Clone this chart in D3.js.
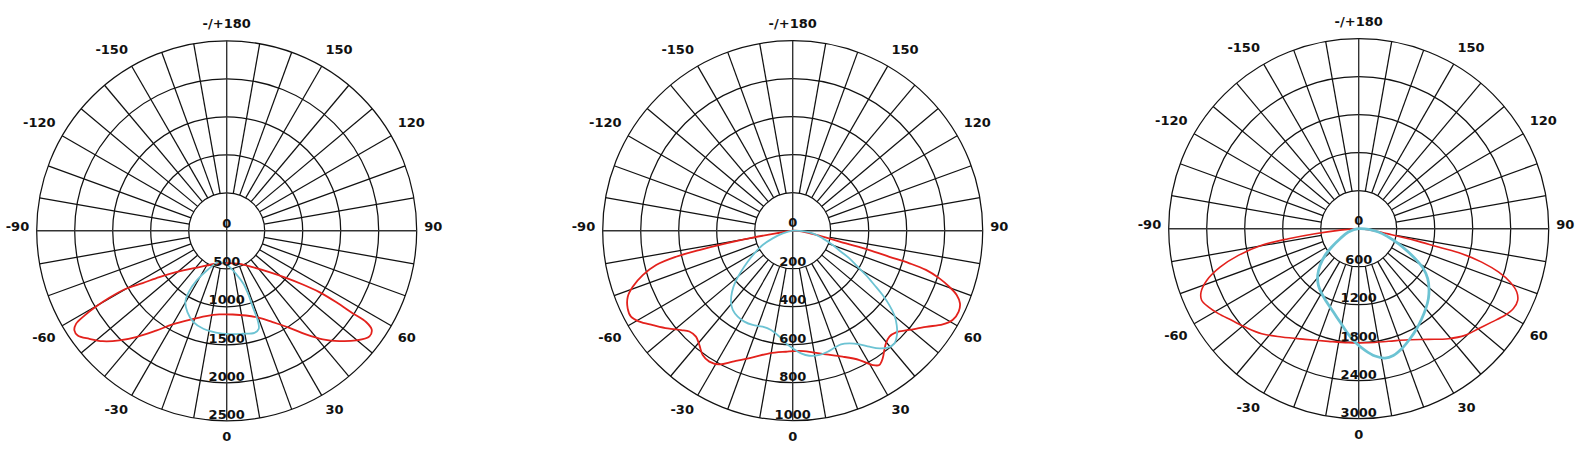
<!DOCTYPE html>
<html>
<head>
<meta charset="utf-8">
<script src="https://cdn.jsdelivr.net/npm/d3@7"></script>
<style>
  html, body { margin: 0; padding: 0; background: #fff; }
  svg { display: block; }
  text { font-family: "DejaVu Sans", sans-serif; font-weight: bold; font-size: 13px; fill: #111; }
</style>
</head>
<body>
<svg id="chart" width="1578" height="472"></svg>
<script>
// ---------- DATA ----------
const angleTicks = [0, 30, 60, 90, 120, 150, 180, -150, -120, -90, -60, -30];
const angleTickLabels = ["0", "30", "60", "90", "120", "150", "-/+180", "-150", "-120", "-90", "-60", "-30"];

const chart1RadialTicks = [0, 500, 1000, 1500, 2000, 2500];
const chart2RadialTicks = [0, 200, 400, 600, 800, 1000];
const chart3RadialTicks = [0, 600, 1200, 1800, 2400, 3000];

// chart 1 – red (C0-C180) traced loop: angle (deg, 0 = nadir, + = right), intensity
const chart1RedAngles = [-1, -18, -37, -50.8, -55.5, -58.1, -60.1, -60.3, -59.9, -59.2, -58.3, -56.8, -54.9, -51.8, -48.3, -44.4, -40.5, -35.3, -30, -22.7, -13.6, -5, 4.1, 12.8, 20.6, 26.7, 32.9, 37.4, 41.5, 45.6, 49.7, 53.5, 55.7, 56.8, 56.8, 56.9, 56.5, 54.8, 51.6, 45.9, 35.6, 21];
const chart1RedValues = [425, 456, 598, 860, 1075, 1302, 1529, 1778, 1987, 2179, 2330, 2395, 2396, 2299, 2184, 2019, 1838, 1608, 1423, 1270, 1155, 1105, 1104, 1143, 1223, 1345, 1520, 1717, 1908, 2075, 2231, 2337, 2310, 2192, 1980, 1717, 1462, 1225, 996, 782, 588, 466];
// chart 1 – cyan (C90-C270)
const chart1CyanAngles = [-14.3, -26, -31.1, -31.8, -30.1, -25.8, -20, -13.4, -6, 1.5, 8.8, 15.2, 18.1, 19.1, 18.9, 18.9, 17.5, 12.2, 1.7];
const chart1CyanValues = [425, 571, 763, 949, 1084, 1188, 1279, 1325, 1346, 1359, 1371, 1391, 1357, 1249, 1085, 922, 731, 579, 456];

// chart 2
const chart2RedAngles = [0, -80.9, -80.1, -79.2, -78.3, -77.4, -75.9, -73.5, -70.7, -68.2, -64.8, -62, -59.3, -56, -52, -48.3, -45.7, -42.4, -39.2, -35.9, -32.5, -28.7, -24.6, -17.5, -10.8, -3.2, 3.2, 9.3, 15.1, 21.6, 27.3, 30.8, 32.8, 35.2, 37.5, 39.6, 42.4, 45.5, 49.6, 54.2, 58, 60.8, 64, 66.5, 68.6, 70.3, 72, 73.6, 74.4, 74.9, 75.8, 76.6, 78.7, 82.9];
const chart2RedValues = [0, 89, 214, 357, 502, 629, 741, 823, 892, 935, 960, 964, 938, 888, 835, 786, 760, 755, 777, 808, 817, 802, 758, 699, 657, 638, 634, 649, 674, 713, 766, 823, 841, 822, 792, 770, 755, 763, 806, 865, 931, 964, 972, 960, 927, 875, 812, 731, 638, 527, 416, 289, 161, 71];
const chart2CyanAngles = [0, -75, -69, -64.5, -59.4, -55.4, -51.6, -48.3, -44.8, -41, -37.1, -32.6, -28, -23, -17.4, -12.3, -7.2, -3.4, 0, 3.9, 7.6, 12.1, 16.1, 19.6, 23, 26.7, 30.4, 33.5, 36.4, 39.1, 42.1, 45, 47.8, 50.3, 52.4, 54.4, 56.4, 58.8, 61, 64, 66.5, 70.3, 75.7, 82.4, 88];
const chart2CyanValues = [0, 54, 113, 175, 234, 288, 347, 404, 453, 495, 523, 537, 542, 539, 529, 535, 562, 594, 619, 647, 664, 669, 663, 654, 650, 664, 693, 732, 769, 793, 799, 776, 739, 695, 642, 582, 516, 451, 391, 332, 277, 224, 163, 106, 40];

// chart 3
const chart3RedAngles = [0, -85.3, -83.5, -81.9, -80.3, -77.5, -74.5, -71.2, -68.1, -65.5, -62.5, -58.8, -54.2, -49.1, -42.7, -35.4, -25.9, -15.1, -5.2, 4.8, 14.8, 24.1, 32.2, 39.2, 44.9, 50.1, 54.9, 59.4, 62.7, 65.7, 68.2, 70.6, 72.8, 74.8, 76.4, 77, 78.3, 79.7, 81.9];
const chart3RedValues = [0, 322, 694, 1122, 1554, 1946, 2272, 2535, 2683, 2725, 2677, 2590, 2473, 2373, 2257, 2098, 1942, 1842, 1807, 1806, 1839, 1920, 2065, 2241, 2378, 2462, 2566, 2685, 2749, 2754, 2688, 2534, 2309, 2012, 1674, 1291, 908, 530, 261];
const chart3CyanAngles = [0, -72.1, -61.8, -55.8, -51.6, -46.5, -41.3, -35.4, -29.6, -23.6, -16.9, -11.3, -6.6, -1.9, 3, 7.3, 11.5, 15.3, 19.7, 25, 30.1, 35, 40, 44.9, 49.5, 54.1, 58.3, 61.4, 64.8, 69.3, 74.3, 80.4];
const chart3CyanValues = [0, 171, 334, 515, 678, 841, 981, 1098, 1181, 1263, 1375, 1503, 1643, 1790, 1924, 2027, 2084, 2074, 2013, 1917, 1825, 1735, 1648, 1559, 1460, 1345, 1200, 1043, 866, 670, 486, 315];

// ---------- DRAWING ----------
const svg = d3.select("#chart");
const R = 190;
const RED = "#e3211c", CYAN = "#6cc3d3";

const charts = [
  { cx: 226.7, cy: 230.8, ticks: chart1RadialTicks,
    series: [
      { a: chart1RedAngles, v: chart1RedValues, color: RED, w: 1.8 },
      { a: chart1CyanAngles, v: chart1CyanValues, color: CYAN, w: 1.8 } ] },
  { cx: 792.7, cy: 230.7, ticks: chart2RadialTicks,
    series: [
      { a: chart2RedAngles, v: chart2RedValues, color: RED, w: 1.8 },
      { a: chart2CyanAngles, v: chart2CyanValues, color: CYAN, w: 1.8 } ] },
  { cx: 1358.7, cy: 228.7, ticks: chart3RadialTicks,
    series: [
      { a: chart3RedAngles, v: chart3RedValues, color: RED, w: 1.6 },
      { a: chart3CyanAngles, v: chart3CyanValues, color: CYAN, w: 2.8 } ] }
];

const toRad = g => (180 - g) * Math.PI / 180; // gamma (0 = down, +90 = right) -> d3 radial angle

charts.forEach(ch => {
  const g = svg.append("g").attr("transform", `translate(${ch.cx},${ch.cy})`);
  const rScale = d3.scaleLinear().domain([0, d3.max(ch.ticks)]).range([0, R]);
  const inner = rScale(ch.ticks[1]);

  // spokes every 10 degrees
  const spokes = d3.range(-170, 181, 10);
  g.append("g").selectAll("line").data(spokes.filter(s => s % 90 !== 0)).join("line")
    .attr("x1", d => d3.pointRadial(toRad(d), inner)[0])
    .attr("y1", d => d3.pointRadial(toRad(d), inner)[1])
    .attr("x2", d => d3.pointRadial(toRad(d), R)[0])
    .attr("y2", d => d3.pointRadial(toRad(d), R)[1])
    .attr("stroke", "#111").attr("stroke-width", 1.25);

  // circles
  g.append("g").selectAll("circle").data(ch.ticks.slice(1)).join("circle")
    .attr("r", d => rScale(d)).attr("fill", "none")
    .attr("stroke", "#111").attr("stroke-width", 1.25);

  // main axes through centre
  [0, 90].forEach(a => {
    const p1 = d3.pointRadial(toRad(a), R), p2 = d3.pointRadial(toRad(a + 180), R);
    g.append("line").attr("x1", p1[0]).attr("y1", p1[1]).attr("x2", p2[0]).attr("y2", p2[1])
      .attr("stroke", "#333").attr("stroke-width", 1.4);
  });

  // curves
  ch.series.forEach(s => {
    const pts = s.a.map((a, i) => [a, s.v[i]]);
    const line = d3.lineRadial()
      .angle(d => toRad(d[0]))
      .radius(d => rScale(d[1]))
      .curve(d3.curveCatmullRomClosed.alpha(0.5));
    g.append("path").attr("d", line(pts)).attr("fill", "none")
      .attr("stroke", s.color).attr("stroke-width", s.w).attr("stroke-linejoin", "round");
  });

  // radial tick labels
  g.append("g").selectAll("text").data(ch.ticks).join("text")
    .attr("x", 0).attr("y", d => rScale(d) * 1.01 - 3.3)
    .attr("text-anchor", "middle").text(d => d);

  // angle labels: anchored just outside the rim, aligned away from the circle
  const rho = 197.5;
  g.append("g").selectAll("text").data(angleTicks).join("text")
    .each(function (d, i) {
      const t = d3.select(this);
      const rad = d * Math.PI / 180;
      const s = Math.sin(rad), c = Math.cos(rad);
      const ax = rho * s, ay = rho * c;
      const anchor = Math.abs(s) < 0.01 ? "middle" : (s > 0 ? "start" : "end");
      let baseline;
      if (Math.abs(c) < 0.01) baseline = ay;          // +-90: centred on the axis
      else if (c > 0) baseline = ay + 12.4;            // lower half: text below anchor
      else baseline = ay - 5.3;                        // upper half: text above anchor
      t.attr("x", ax).attr("y", baseline).attr("text-anchor", anchor).text(angleTickLabels[i]);
    });
});
</script>
</body>
</html>
